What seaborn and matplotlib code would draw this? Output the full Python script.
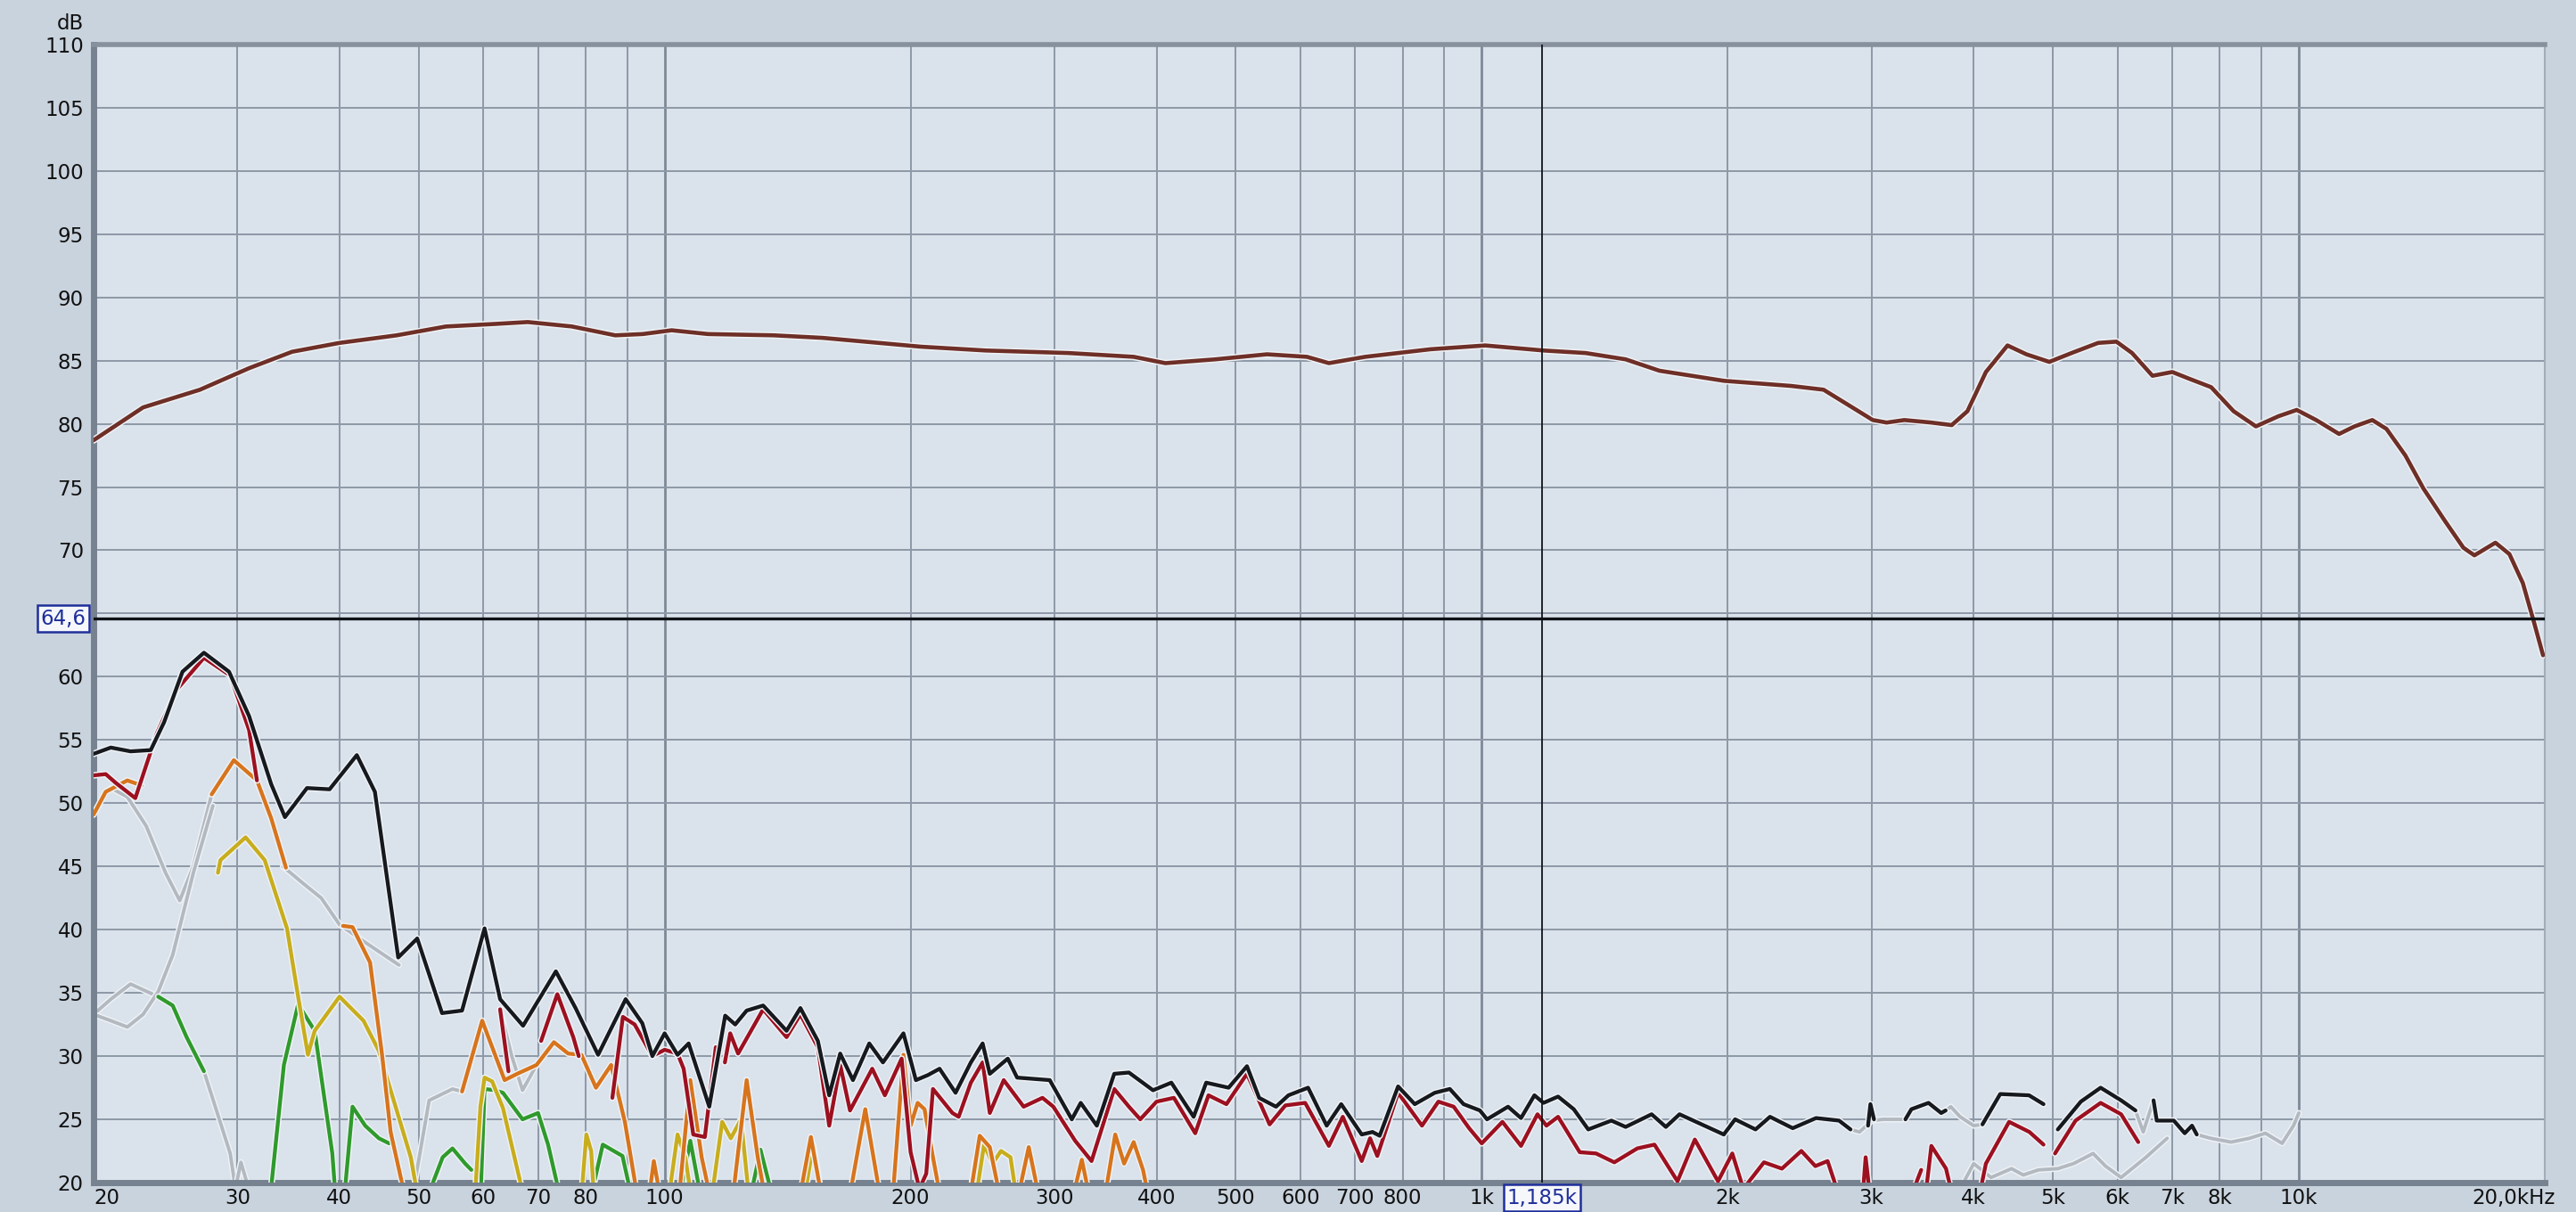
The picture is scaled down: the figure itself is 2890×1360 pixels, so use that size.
import numpy as np
import pandas as pd
import matplotlib
matplotlib.use("Agg")
import matplotlib.pyplot as plt
import matplotlib.transforms as mtransforms
import matplotlib.patheffects as pe
import seaborn as sns

nan = np.nan

# -----------------------------
# Data (frequency in Hz, level in dB)
# nan = gap in the trace
# -----------------------------
fund_freq = [20, 23, 27, 31, 35, 40, 47, 54, 62, 68, 77, 87, 94, 102, 113, 136, 156, 206, 247, 312,
             375, 410, 472, 546, 611, 650, 720, 866, 1010, 1190, 1340, 1500, 1650, 1980, 2390, 2620,
             3010, 3130, 3290, 3550, 3760, 3930, 4140, 4400, 4640, 4950, 5270, 5680, 5980, 6250,
             6620, 7000, 7320, 7810, 8320, 8860, 9440, 9940, 10500, 11200, 11700, 12300, 12800,
             13500, 14200, 15100, 15900, 16400, 17400, 18100, 18800, 19400, 19900]
fund_db = [78.7, 81.3, 82.7, 84.4, 85.7, 86.4, 87.0, 87.7, 87.9, 88.05, 87.7, 87.0, 87.1, 87.4, 87.1,
           87.0, 86.8, 86.1, 85.8, 85.6, 85.3, 84.8, 85.1, 85.5, 85.3, 84.8, 85.3, 85.9, 86.2, 85.8,
           85.6, 85.1, 84.2, 83.4, 83.0, 82.7, 80.3, 80.1, 80.3, 80.1, 79.9, 81.0, 84.1, 86.2, 85.5,
           84.9, 85.6, 86.4, 86.5, 85.6, 83.8, 84.1, 83.6, 82.9, 81.0, 79.8, 80.6, 81.1, 80.3, 79.2,
           79.8, 80.3, 79.6, 77.5, 74.9, 72.3, 70.2, 69.6, 70.6, 69.7, 67.4, 64.3, 61.7]

total_freq = [20, 21, 22.2, 23.5, 24.4, 25.7, 27.3, 29.3, 31.0, 33.0, 34.3, 36.5, 38.9, 42.0, 44.2,
              47.2, 49.8, 53.4, 56.5, 60.2, 62.9, 67.1, 73.6, 77.8, 82.9, 89.6, 93.9, 96.6, 100,
              103.7, 107, 113.4, 118.6, 122, 126, 132, 141, 146.6, 154, 159, 164, 170, 178, 185,
              196, 203, 210, 217, 227, 237, 245, 250, 263, 270, 296, 315, 323, 338, 355, 370, 396,
              417, 444, 460, 490, 516, 534, 560, 580, 613, 646, 673, 713, 735, 750, 790, 828, 876,
              914, 950, 995, 1015, 1077, 1117, 1160, 1190, 1240, 1296, 1350, 1441, 1500, 1614,
              1680, 1746, 1978, 2042, 2163, 2253, 2402, 2565, 2737, 2827, nan, 2970, 2990, 3020,
              nan, 3300, 3356, 3522, 3650, 3696, nan, 4100, 4310, 4675, 4870, nan, 5070, 5410,
              5720, 6060, 6310, nan, 6640, 6700, 6780, 7030, 7250, 7400, 7500]
total_db = [53.9, 54.4, 54.1, 54.2, 56.4, 60.4, 61.9, 60.4, 56.9, 51.5, 48.9, 51.2, 51.1, 53.8, 50.9,
            37.8, 39.3, 33.4, 33.6, 40.1, 34.5, 32.4, 36.7, 33.8, 30.1, 34.5, 32.6, 30.0, 31.8,
            30.1, 31.0, 26.0, 33.2, 32.5, 33.6, 34.0, 32.0, 33.8, 31.2, 26.9, 30.2, 28.1, 31.0,
            29.5, 31.8, 28.1, 28.5, 29.0, 27.1, 29.5, 31.0, 28.6, 29.8, 28.3, 28.1, 25.0, 26.3,
            24.5, 28.6, 28.7, 27.3, 27.9, 25.2, 27.9, 27.5, 29.2, 26.7, 26.0, 26.9, 27.5, 24.5,
            26.2, 23.8, 24.0, 23.7, 27.6, 26.2, 27.1, 27.4, 26.2, 25.7, 25.0, 26.0, 25.1, 26.9,
            26.3, 26.8, 25.8, 24.2, 24.9, 24.4, 25.4, 24.4, 25.4, 23.8, 25.0, 24.2, 25.2, 24.3,
            25.1, 24.9, 24.2, nan, 24.5, 26.2, 25.0, nan, 25.0, 25.8, 26.3, 25.5, 25.7, nan, 24.6,
            27.0, 26.9, 26.2, nan, 24.2, 26.4, 27.5, 26.5, 25.7, nan, 26.5, 24.9, 24.9, 24.9,
            23.9, 24.5, 23.8]

h2_freq = [20, 20.7, 21.3, 22.5, 23.9, 25.3, 27.3, 29.4, 31.0, 31.7, nan, 62.9, 64.4, nan, 70.6,
           73.9, 77.3, 78.5, nan, 86.3, 88.9, 91.9, 96.6, 100, 103.7, 105.5, 108.4, 112, 115.5,
           nan, 118.5, 120.3, 123, 132, 141, 146.6, 154, 159, 164, 168.6, 179.5, 186, 195, 200,
           205, 209, 213, 225, 229, 237, 245, 250, 260, 275, 290, 299, 318, 333, 355, 370, 382,
           400, 420, 446, 463, 487, 516, 550, 575, 608, 650, 676, 713, 730, 745, 790, 845, 885,
           924, 965, 1000, 1060, 1117, 1170, 1200, 1240, 1318, 1380, 1453, 1550, 1627, 1736,
           1823, 1946, 2026, 2090, 2215, 2330, 2461, 2560, 2650, 2720, nan, 2930, 2950, 2980,
           nan, 3380, 3450, nan, 3500, 3550, 3700, 3750, nan, 4080, 4140, 4420, 4680, 4870, nan,
           5030, 5330, 5720, 6060, 6360]
h2_db = [52.2, 52.3, 51.6, 50.4, 55.5, 59.0, 61.5, 60.1, 55.8, 51.8, nan, 33.7, 28.8, nan, 31.2,
         34.9, 31.5, 30.0, nan, 26.7, 33.1, 32.5, 30.0, 30.5, 30.2, 29.0, 23.8, 23.6, 30.7, nan,
         29.5, 31.8, 30.2, 33.7, 31.5, 33.3, 30.7, 24.5, 29.3, 25.7, 29.0, 26.9, 29.8, 22.4, 19.5,
         20.7, 27.4, 25.5, 25.2, 27.9, 29.5, 25.5, 28.1, 26.0, 26.7, 26.0, 23.3, 21.7, 27.4, 26.0,
         25.0, 26.4, 26.7, 23.9, 26.9, 26.2, 28.6, 24.6, 26.1, 26.3, 22.9, 25.2, 21.7, 23.5, 22.1,
         27.1, 24.5, 26.4, 26.0, 24.3, 23.1, 24.8, 22.9, 25.4, 24.5, 25.2, 22.4, 22.3, 21.6, 22.7,
         23.0, 20.1, 23.4, 20.1, 22.3, 19.5, 21.6, 21.1, 22.5, 21.3, 21.7, 19.5, nan, 19.5, 22.0,
         19.5, nan, 19.5, 21.0, nan, 19.5, 22.9, 21.1, 19.5, nan, 19.5, 21.5, 24.8, 24.0, 23.0,
         nan, 22.3, 24.9, 26.3, 25.4, 23.2]

h3_freq = [20, 20.7, 22.0, 22.9, nan, 27.9, 29.7, 31.7, 33.0, 34.4, nan, 40.4, 41.5, 43.6, 45.1,
           46.2, 47.5, 48.5, nan, 56.5, 59.8, 63.7, 66, 69.7, 73.2, 76.2, 79.1, 82.4, 86, 89.4,
           92, 93, nan, 95.5, 97, 99, nan, 104, 107.5, 111, 114, nan, 121, 126, 130, 133, nan,
           146, 151, 156, nan, 168, 176, 184, nan, 190, 196, 200, 204, 208, 213, 218, nan, 236,
           243, 250, 258, nan, 270, 279, 288, nan, 315, 324, 332, nan, 345, 356, 365, 375, 385,
           392]
h3_db = [49.1, 50.9, 51.8, 51.4, nan, 50.7, 53.4, 51.8, 48.8, 44.9, nan, 40.3, 40.2, 37.4, 30.1,
         24.0, 20.5, 18.0, nan, 27.2, 32.8, 28.1, 28.6, 29.3, 31.1, 30.2, 30.1, 27.5, 29.3, 24.8,
         20.0, 18.0, nan, 18.5, 21.7, 18.5, nan, 18.5, 28.1, 22.0, 18.5, nan, 18.5, 28.1, 22.0,
         18.5, nan, 18.5, 23.6, 18.5, nan, 18.5, 25.8, 18.5, nan, 18.5, 30.1, 24.5, 26.3, 25.8,
         22.0, 18.5, nan, 18.5, 23.7, 22.8, 18.5, nan, 18.5, 22.8, 18.5, nan, 18.5, 21.8, 18.5,
         nan, 18.5, 23.8, 21.5, 23.2, 21.0, 18.5]

h4_freq = [28.4, 28.6, 30.7, 32.4, 34.5, 35.6, 36.6, 37.3, 40, 42.8, 44.7, 47.2, 48.9, 50, nan,
           58.5, 59.5, 60.2, 61.5, 63.4, 66.6, 67.5, nan, 79, 80.2, 81.3, 82, nan, 101, 103.7,
           106, 108, nan, 114, 117.6, 120.5, 124, 127, nan, 148, 152, 156, nan, 240, 246, 252,
           258, 265, 270]
h4_db = [44.5, 45.5, 47.3, 45.5, 40.1, 34.7, 30.1, 32.0, 34.7, 32.8, 30.4, 25.3, 22.0, 18.5, nan,
         18.0, 26.0, 28.3, 28.0, 25.9, 20.0, 18.0, nan, 18.5, 23.8, 22.5, 18.5, nan, 18.5, 23.8,
         22.0, 18.5, nan, 18.5, 24.8, 23.5, 25.0, 18.5, nan, 18.5, 23.0, 18.5, nan, 18.5, 23.0,
         21.5, 22.5, 22.0, 18.5]

h5_freq = [24.0, 25.0, 26.0, 27.3, nan, 32.8, 34.2, 35.6, 37.3, 39.2, 39.6, nan, 40.5, 41.5, 43.0,
           44.7, 46.0, nan, 51.0, 53.5, 55.0, 57.0, 58.0, nan, 59.5, 60.2, 62, 63.4, 67, 70, 72,
           74.4, nan, 81, 84, 88.8, 91, nan, 104, 107.5, 111, nan, 127, 131, 136, nan, 236, 240,
           244]
h5_db = [34.7, 34.0, 31.5, 28.8, nan, 18.0, 29.3, 34.1, 32.0, 22.3, 18.5, nan, 18.5, 26.0, 24.5,
         23.5, 23.1, nan, 18.5, 22.0, 22.7, 21.5, 21.0, nan, 18.5, 27.4, 27.3, 27.1, 25.0, 25.5,
         23.0, 19.0, nan, 18.5, 23.0, 22.1, 19.0, nan, 18.5, 23.3, 18.5, nan, 18.5, 22.6, 18.5,
         nan, 18.5, 21.8, 18.5]

# greyed-out (low confidence) parts of the harmonic traces
grey_freq = [21, 22, 23.2, 24.5, 25.5, 26.5, 27.9, nan, 20, 21, 22.2, 24.0, nan, 20, 21, 22, 23,
             24, 25, 26.5, 28, nan, 27.3, 27.9, 29.4, 30, nan, 29.6, 30.3, 31.3, nan, 34.1, 36.2,
             38, 40, 43, 47.3, nan, 49, 51.5, 55, 56.5, nan, 62.9, 65, 67, 69.7, nan, 2827, 2900,
             3000, 3100, 3300, nan, 3696, 3750, 3850, 4000, 4100, nan, 3850, 4000, 4200, 4450,
             4600, 4800, 5070, 5300, 5600, 5800, 6060, 6500, 6900, nan, 6310, 6450, 6640, nan,
             7500, 7800, 8260, 8700, 9100, 9540, 9850, 10000]
grey_db = [51.2, 50.5, 48.2, 44.5, 42.3, 45.0, 50.7, nan, 33.3, 34.5, 35.7, 34.7, nan, 33.3, 32.8,
           32.3, 33.3, 35.1, 38.0, 44.5, 49.8, nan, 28.8, 26.9, 22.3, 18.5, nan, 18.5, 21.6, 18.5,
           nan, 45.0, 43.6, 42.5, 40.4, 39.0, 37.2, nan, 18.5, 26.5, 27.4, 27.2, nan, 33.7, 30.0,
           27.3, 29.3, nan, 24.2, 24.0, 24.9, 25.0, 25.0, nan, 25.7, 26.0, 25.2, 24.5, 24.6, nan,
           19.5, 21.5, 20.4, 21.1, 20.6, 21.0, 21.1, 21.5, 22.3, 21.3, 20.4, 22.0, 23.5, nan, 25.7,
           24.0, 26.5, nan, 23.8, 23.5, 23.2, 23.5, 23.9, 23.1, 24.5, 25.5]

cursor_db = 64.6
cursor_freq = 1185

x_ticks = [20, 30, 40, 50, 60, 70, 80, 100, 200, 300, 400, 500, 600, 700, 800,
           1000, 2000, 3000, 4000, 5000, 6000, 7000, 8000, 10000, 20000]
x_tick_labels = ["20", "30", "40", "50", "60", "70", "80", "100", "200", "300", "400", "500",
                 "600", "700", "800", "1k", "2k", "3k", "4k", "5k", "6k", "7k", "8k", "10k",
                 "20,0kHz"]
y_ticks = [20, 25, 30, 35, 40, 45, 50, 55, 60, 70, 75, 80, 85, 90, 95, 100, 105, 110]

# -----------------------------
# Style
# -----------------------------
bg_fig = "#c9d3de"
bg_ax = "#dae2eb"
grid_col = "#8d99a7"

sns.set_style("white", rc={"axes.facecolor": bg_ax, "figure.facecolor": bg_fig})
plt.rcParams["font.family"] = ["DejaVu Sans"]

fig = plt.figure(figsize=(28.9, 13.6), dpi=100)
ax = fig.add_axes([0.0363, 0.0243, 0.9516, 0.939])
ax.set_xscale("log")
ax.set_xlim(20, 20000)
ax.set_ylim(20, 110)

# grid
grid_lines = list(range(30, 100, 10)) + list(range(100, 1000, 100)) + \
    list(range(1000, 10000, 1000)) + [10000]
for g in grid_lines:
    major = g in (100, 1000, 10000)
    ax.axvline(g, color="#7d8997" if major else grid_col, lw=2.0 if major else 1.4, zorder=1)
for d in range(25, 110, 5):
    ax.axhline(d, color=grid_col, lw=1.4, zorder=1)


def draw_trace(freq, db, color, lw=3.1, z=3):
    df = pd.DataFrame({"freq": freq, "db": db})
    df["seg"] = df["db"].isna().cumsum()
    df = df.dropna()
    halo = [pe.withStroke(linewidth=lw + 2.2, foreground="#eef2f6")]
    sns.lineplot(data=df, x="freq", y="db", units="seg", estimator=None, sort=False,
                 color=color, lw=lw, ax=ax, zorder=z, legend=False, path_effects=halo)


draw_trace(grey_freq, grey_db, "#b3b9c0", lw=2.8, z=2)
draw_trace(h5_freq, h5_db, "#2f9a2c", z=3)
draw_trace(h4_freq, h4_db, "#c8ad1c", z=3)
draw_trace(h3_freq, h3_db, "#d7741c", z=3)
draw_trace(h2_freq, h2_db, "#9c1020", z=4)
draw_trace(total_freq, total_db, "#16191d", z=5)
draw_trace(fund_freq, fund_db, "#6e2f27", lw=3.3, z=5)

# cursors
ax.axhline(cursor_db, color="#0f1317", lw=2.4, zorder=6)
ax.axvline(cursor_freq, color="#0f1317", lw=1.3, zorder=6)

# axes frame
for side in ["left", "bottom"]:
    ax.spines[side].set_color("#76828f")
    ax.spines[side].set_linewidth(5)
ax.spines["top"].set_color("#86919d")
ax.spines["top"].set_linewidth(4)
ax.spines["right"].set_color("#a3adb8")
ax.spines["right"].set_linewidth(1.5)

# ticks
ax.xaxis.set_minor_locator(matplotlib.ticker.NullLocator())
ax.set_xticks(x_ticks)
ax.set_xticklabels(x_tick_labels)
ax.set_yticks(y_ticks)
ax.set_yticklabels([str(v) for v in y_ticks])
ax.tick_params(axis="both", length=0, labelsize=16.5, colors="#111111")
ax.tick_params(axis="x", pad=4)
ax.tick_params(axis="y", pad=8)
ax.set_xlabel("")
ax.set_ylabel("")

xlabels = ax.get_xticklabels()
xlabels[0].set_horizontalalignment("left")
xlabels[-1].set_horizontalalignment("right")
xlabels[-1].set_transform(xlabels[-1].get_transform() +
                          mtransforms.ScaledTranslation(0.12, 0, fig.dpi_scale_trans))

# unit label and cursor read-outs
ax.text(-0.004, 1.018, "dB", transform=ax.transAxes, ha="right", va="center",
        fontsize=16.5, color="#111111")

box = dict(boxstyle="square,pad=0.15", facecolor="#f5f7fb", edgecolor="#1f2f9a", lw=1.8)
ytrans = mtransforms.blended_transform_factory(ax.transAxes, ax.transData)
ax.text(-0.003, cursor_db, "64,6", transform=ytrans, ha="right", va="center",
        fontsize=16.5, color="#1f2f9a", bbox=box, clip_on=False, zorder=7)
xtrans = mtransforms.blended_transform_factory(ax.transData, ax.transAxes)
ax.text(cursor_freq, -0.0135, "1,185k", transform=xtrans, ha="center", va="center",
        fontsize=16.5, color="#1f2f9a", bbox=box, clip_on=False, zorder=7)

fig.savefig("out.png", dpi=100, facecolor=bg_fig)
